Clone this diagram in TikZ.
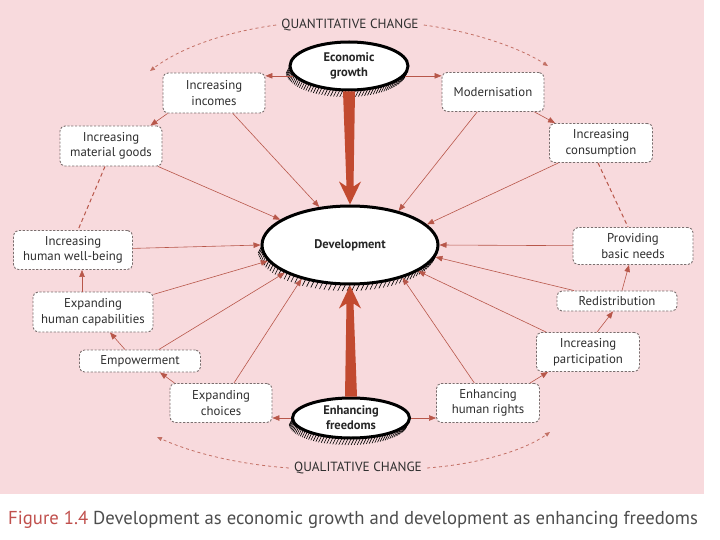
\documentclass[tikz,border=0pt]{standalone}
\usepackage{fontspec}
\setmainfont{PT Sans}
\usetikzlibrary{shapes.geometric,arrows.meta,calc}
\definecolor{bg}{HTML}{F8DADD}
\definecolor{ln}{HTML}{B8574A}
\definecolor{bigred}{HTML}{C24A30}
\definecolor{bx}{HTML}{7A6E6E}
\definecolor{txt}{HTML}{2E2E2E}
\definecolor{figred}{HTML}{C0504D}
\newcommand{\hatchell}[4]{%
  \foreach \t in {12,15,...,178} {
    \draw[black, line width=0.6pt] ({#1+(#3+1)*cos(\t)},{#2+(#4+1)*sin(\t)}) -- ++(-3,6);
  }}
\begin{document}
\begin{tikzpicture}[x=1pt,y=-1pt,
  box/.style={draw=bx, dash pattern=on 2.2pt off 1.6pt, line width=0.9pt, rounded corners=5pt,
    fill=white, align=center, inner sep=0pt, font=\fontsize{12.8}{15.5}\selectfont, text=txt},
  ell/.style={ellipse, draw=black, line width=3pt, fill=white, inner sep=0pt, align=center,
    font=\bfseries\fontsize{12.5}{15}\selectfont, text=black!85},
  link/.style={draw=ln, line width=0.6pt, -{Triangle[length=7pt,width=5.5pt]}},
  dlink/.style={draw=ln, line width=1pt, dash pattern=on 4pt off 3pt},
  bigfill/.style={fill=bigred},
  arcline/.style={draw=ln!85, line width=0.8pt, dash pattern=on 3pt off 3pt, -{Triangle[length=5pt,width=4pt]}},
  lab/.style={font=\fontsize{13.3}{15}\selectfont, text=txt, inner sep=1pt}
]
\useasboundingbox (0,0) rectangle (720,540);
\fill[bg] (0,0) rectangle (704,494);

% hatching shadows
\hatchell{349}{66}{59}{24}
\hatchell{350}{245}{88}{39}
\hatchell{351}{418}{58}{20}

% ellipses
\node[ell, minimum width=118pt, minimum height=48pt] (eg) at (349,66) {Economic\\growth};
\node[ell, minimum width=176pt, minimum height=78pt] (dev) at (350,245) {Development};
\node[ell, minimum width=117pt, minimum height=40pt] (ef) at (351,418) {Enhancing\\freedoms};

% boxes
\node[box, minimum width=102pt, minimum height=40pt] (inc) at (214,93) {Increasing\\incomes};
\node[box, minimum width=102pt, minimum height=40pt] (goods) at (111,146) {Increasing\\material goods};
\node[box, minimum width=102pt, minimum height=39pt] (mod) at (493,92) {Modernisation};
\node[box, minimum width=103pt, minimum height=39pt] (cons) at (601,143) {Increasing\\consumption};
\node[box, minimum width=119pt, minimum height=39pt] (wb) at (73,250) {Increasing\\human well-being};
\node[box, minimum width=120pt, minimum height=40pt] (cap) at (93,312) {Expanding\\human capabilities};
\node[box, minimum width=121pt, minimum height=22pt] (emp) at (140,361) {Empowerment};
\node[box, minimum width=102pt, minimum height=39pt] (ch) at (221,403) {Expanding\\choices};
\node[box, minimum width=103pt, minimum height=39pt] (hr) at (488,403) {Enhancing\\human rights};
\node[box, minimum width=103pt, minimum height=39pt] (part) at (588,352) {Increasing\\participation};
\node[box, minimum width=120pt, minimum height=20pt] (red) at (617,301) {Redistribution};
\node[box, minimum width=120pt, minimum height=37pt] (bn) at (633,246) {Providing\\basic needs};

% big tapered arrows
\fill[bigfill] ($(eg.south)+(-6,0)$) -- ($(eg.south)+(6,0)$) -- ($(dev.north)+(3.5,-18)$)
  -- ($(dev.north)+(11,-23)$) -- (dev.north) -- ($(dev.north)+(-11,-23)$)
  -- ($(dev.north)+(-3.5,-18)$) -- cycle;
\fill[bigfill] ($(ef.north)+(-6,0)$) -- ($(ef.north)+(6,0)$) -- ($(dev.south)+(3.5,18)$)
  -- ($(dev.south)+(11,23)$) -- (dev.south) -- ($(dev.south)+(-11,23)$)
  -- ($(dev.south)+(-3.5,18)$) -- cycle;

% thin arrows into Development
\draw[link] (inc) -- (dev.129);
\draw[link] (goods) -- (dev.160);
\draw[link] (wb) -- (dev.180);
\draw[link] (cap) -- (dev.191);
\draw[link] (emp) -- (dev.203);
\draw[link] (ch) -- (dev.215);
\draw[link] (mod) -- (dev.35);
\draw[link] (cons) -- (dev.15);
\draw[link] (bn) -- (dev.0);
\draw[link] (red) -- (dev.352);
\draw[link] (part) -- (dev.339);
\draw[link] (hr) -- (dev.328);

% chains
\draw[link] (eg.190) -- (inc.east |- eg.190);
\draw[link] (eg.350) -- (mod.west |- eg.350);
\draw[link] ([xshift=5pt]inc.south west) -- ([xshift=-12pt]goods.north east);
\draw[link] ([xshift=-10pt]mod.south east) -- ([xshift=6pt]cons.north west);
\draw[dlink] ([xshift=-6pt]goods.south) -- ([xshift=5pt]wb.north);
\draw[dlink] ([xshift=-3pt]cons.south) -- ([xshift=-5pt]bn.north);
\draw[link] ([xshift=-11pt]cap.north) -- ([xshift=9pt]wb.south);
\draw[link] ([xshift=-15pt]emp.north) -- ([xshift=17pt]cap.south);
\draw[link] ([xshift=5pt]ch.north west) -- ([xshift=20pt]emp.south);
\draw[link] (ef.west) -- (ch.east |- ef.west);
\draw[link] (ef.east) -- (hr.west |- ef.east);
\draw[link] ([xshift=-10pt]hr.north east) -- ([xshift=12pt]part.south west);
\draw[link] ([xshift=9pt]part.north) -- ([xshift=-4pt]red.south);
\draw[link] ([xshift=5pt]red.north) -- ([xshift=-4pt]bn.south);

% change labels and arcs
\node[lab] (qt) at (350,25) {QUANTITATIVE CHANGE};
\node[lab] (ql) at (358,468) {QUALITATIVE CHANGE};
\coordinate (tl) at (150,71);
\coordinate (tr) at (548,66);
\coordinate (bl) at (157,437);
\coordinate (br) at (550,432);
\draw[arcline] ([xshift=-4pt]qt.west) .. controls (225,32) and (180,48) .. (tl);
\draw[arcline] ([xshift=4pt]qt.east) .. controls (475,32) and (520,48) .. (tr);
\draw[arcline] ([xshift=-4pt]ql.west) .. controls (235,464) and (190,452) .. (bl);
\draw[arcline] ([xshift=4pt]ql.east) .. controls (480,464) and (525,450) .. (br);

% caption
\node[anchor=west, inner sep=0pt, font=\fontsize{18.7}{22}\selectfont] (capt) at (8,520)
  {\textcolor{figred}{Figure 1.4} \textcolor{txt!85}{Development as economic growth and development as enhancing freedoms}};
\end{tikzpicture}
\end{document}
